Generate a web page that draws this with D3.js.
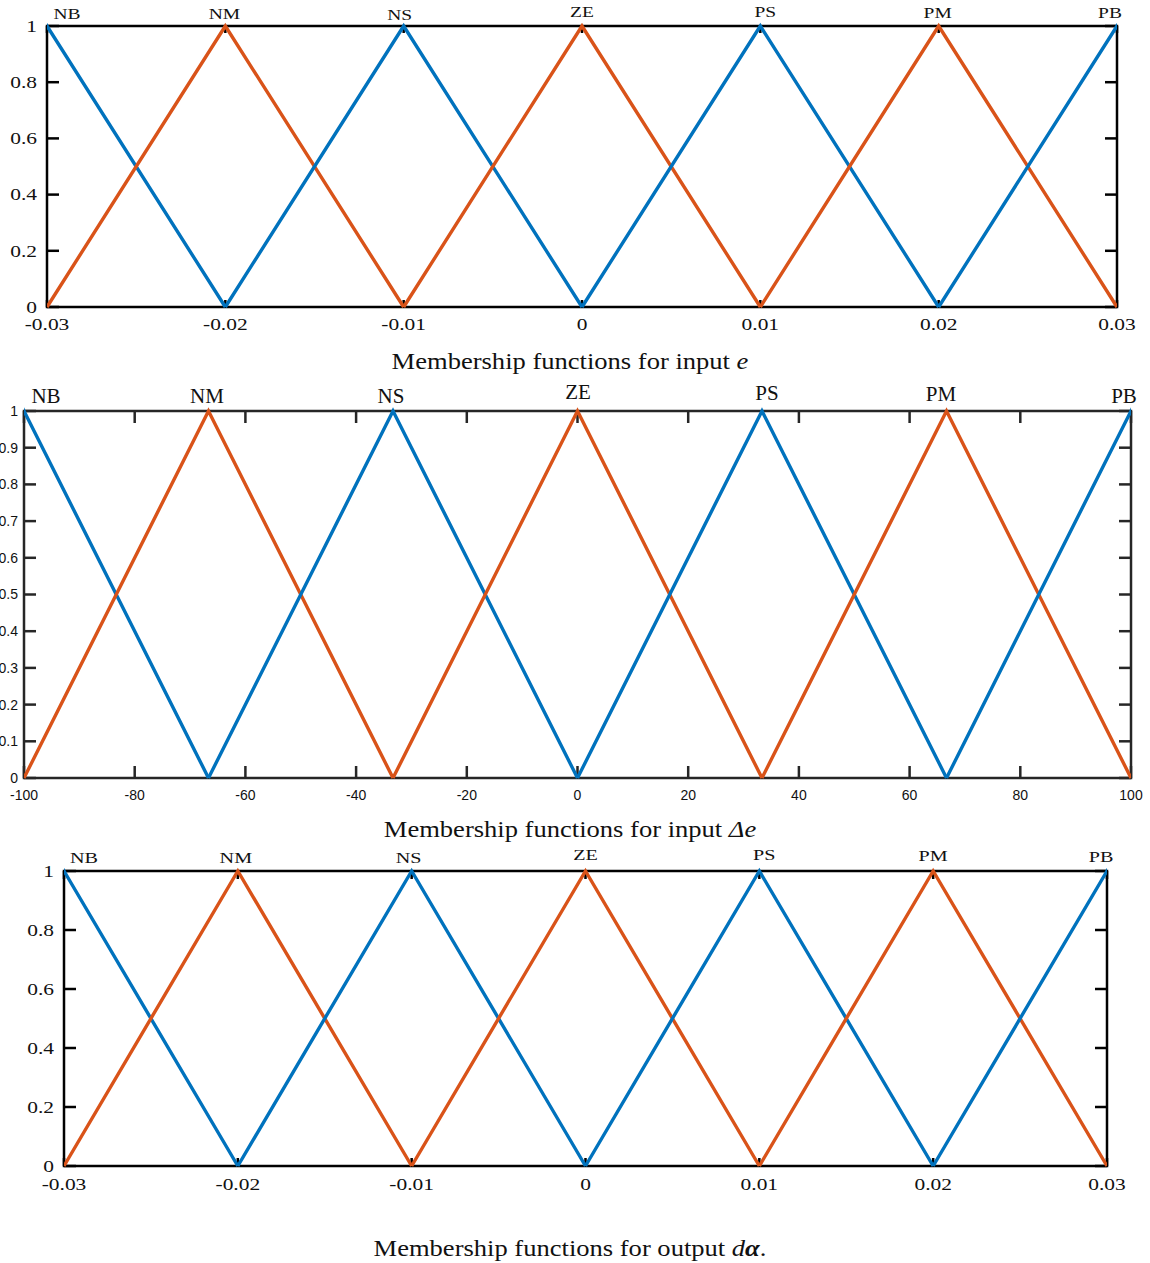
<!DOCTYPE html>
<html lang="en">
<head>
<meta charset="UTF-8">
<title>Membership functions</title>
<script src="https://d3js.org/d3.v7.min.js"></script>
<style>
    body { margin: 0; background: #fff; }
    svg text { font-family: "Liberation Serif", "Times New Roman", serif; fill: #111; }
    .sans text.tick { font-family: "Liberation Sans", Arial, sans-serif; }
</style>
</head>
<body>
<div id="chart"></div>
<script>
// fuzzy set names and triangle parameters [left, peak, right]
var setNames = ["NB", "NM", "NS", "ZE", "PS", "PM", "PB"];
var eSets = [[-0.04, -0.03, -0.02], [-0.03, -0.02, -0.01], [-0.02, -0.01, 0], [-0.01, 0, 0.01],
             [0, 0.01, 0.02], [0.01, 0.02, 0.03], [0.02, 0.03, 0.04]];
var deSets = [[-133.33, -100, -66.67], [-100, -66.67, -33.33], [-66.67, -33.33, 0], [-33.33, 0, 33.33],
              [0, 33.33, 66.67], [33.33, 66.67, 100], [66.67, 100, 133.33]];
var daSets = [[-0.04, -0.03, -0.02], [-0.03, -0.02, -0.01], [-0.02, -0.01, 0], [-0.01, 0, 0.01],
              [0, 0.01, 0.02], [0.01, 0.02, 0.03], [0.02, 0.03, 0.04]];
var eTicks = [-0.03, -0.02, -0.01, 0, 0.01, 0.02, 0.03];
var deTicks = [-100, -80, -60, -40, -20, 0, 20, 40, 60, 80, 100];
var yTicks1 = [0, 0.2, 0.4, 0.6, 0.8, 1];
var yTicks2 = [0, 0.1, 0.2, 0.3, 0.4, 0.5, 0.6, 0.7, 0.8, 0.9, 1];

var blue = "#0072BD", orange = "#D95319";
var W = 1150, H = 1263;

var svg = d3.select("#chart").append("svg").attr("width", W).attr("height", H);

// text that can be stretched sideways (the top and bottom figures are widened)
function label(g, x, y, str, size, anchor, sx, cls) {
    return g.append("text")
        .attr("class", cls || null)
        .attr("transform", "translate(" + x + "," + y + ") scale(" + sx + ",1)")
        .attr("text-anchor", anchor).attr("font-size", size)
        .text(str);
}

function panel(opt) {
    var g = svg.append("g").attr("class", opt.sans ? "sans" : "");
    var x = d3.scaleLinear().domain(opt.domain).range([opt.x0, opt.x1]);
    var y = d3.scaleLinear().domain([0, 1]).range([opt.y1, opt.y0]);
    var line = d3.line().x(function(d) { return x(d[0]); }).y(function(d) { return y(d[1]); });
    var clip = "clip" + opt.id;
    g.append("clipPath").attr("id", clip).append("rect")
        .attr("x", opt.x0).attr("y", opt.y0 - 4).attr("width", opt.x1 - opt.x0).attr("height", opt.y1 - opt.y0 + 8);

    var ax = opt.axisColor;
    // inward ticks on all four sides
    var tk = g.append("g").attr("stroke", ax).attr("stroke-width", 2.5);
    opt.xTicks.forEach(function(t) {
        tk.append("line").attr("x1", x(t)).attr("x2", x(t)).attr("y1", opt.y1).attr("y2", opt.y1 - opt.xTickLen);
        tk.append("line").attr("x1", x(t)).attr("x2", x(t)).attr("y1", opt.y0).attr("y2", opt.y0 + opt.xTickLen);
    });
    opt.yTicks.forEach(function(t) {
        tk.append("line").attr("x1", opt.x0).attr("x2", opt.x0 + opt.yTickLen).attr("y1", y(t)).attr("y2", y(t));
        tk.append("line").attr("x1", opt.x1).attr("x2", opt.x1 - opt.yTickLen).attr("y1", y(t)).attr("y2", y(t));
    });
    g.append("rect").attr("x", opt.x0).attr("y", opt.y0)
        .attr("width", opt.x1 - opt.x0).attr("height", opt.y1 - opt.y0)
        .attr("fill", "none").attr("stroke", ax).attr("stroke-width", 2.5);

    // membership triangles
    g.append("g").attr("clip-path", "url(#" + clip + ")")
        .selectAll("path").data(opt.sets).enter().append("path")
        .attr("d", function(s) { return line([[s[0], 0], [s[1], 1], [s[2], 0]]); })
        .attr("fill", "none")
        .attr("stroke", function(s, i) { return i % 2 ? orange : blue; })
        .attr("stroke-width", 3.4);

    // tick labels (plain hyphen minus like the original)
    opt.xTicks.forEach(function(t) {
        label(g, x(t), opt.y1 + opt.xLabelDy, String(t), opt.tickFont, "middle", opt.sx, "tick");
    });
    opt.yTicks.forEach(function(t) {
        label(g, opt.x0 - opt.yLabelDx, y(t) + opt.tickFont * 0.35, String(t), opt.tickFont, "end", opt.sx, "tick");
    });

    // set names above peaks
    opt.sets.forEach(function(s, i) {
        label(g, x(s[1]) + opt.nameDx[i], opt.y0 - opt.nameDy[i], setNames[i], opt.nameFont, "middle", opt.sx);
    });
}

panel({ id: 1, domain: [-0.03, 0.03], x0: 47, x1: 1117, y0: 26, y1: 307, sets: eSets,
    xTicks: eTicks, yTicks: yTicks1, axisColor: "#000", xTickLen: 7, yTickLen: 12,
    tickFont: 16.5, xLabelDy: 23, yLabelDx: 10, nameFont: 15, sx: 1.3,
    nameDx: [20, -1, -4, 0, 5, -1, -7], nameDy: [7, 7, 6, 9, 9, 8, 8] });

panel({ id: 2, domain: [-100, 100], x0: 24, x1: 1131, y0: 411, y1: 778, sets: deSets, sans: true,
    xTicks: deTicks, yTicks: yTicks2, axisColor: "#262626", xTickLen: 12, yTickLen: 12,
    tickFont: 14, xLabelDy: 22, yLabelDx: 6, nameFont: 21, sx: 1,
    nameDx: [22, -1.5, -2, 0.5, 5, -5.5, -7], nameDy: [8, 8, 8, 12, 11, 10, 8] });

panel({ id: 3, domain: [-0.03, 0.03], x0: 64, x1: 1107, y0: 871, y1: 1166, sets: daSets,
    xTicks: eTicks, yTicks: yTicks1, axisColor: "#000", xTickLen: 8, yTickLen: 12,
    tickFont: 16.5, xLabelDy: 24, yLabelDx: 10, nameFont: 15.5, sx: 1.3,
    nameDx: [20, -2, -3, 0, 5, 0, -6], nameDy: [8, 8, 8, 11, 11, 10, 9] });

// captions
function caption(yPos, parts) {
    var t = svg.append("text")
        .attr("transform", "translate(570," + yPos + ") scale(1.13,1)")
        .attr("text-anchor", "middle").attr("font-size", 23.5);
    parts.forEach(function(p) {
        var s = t.append("tspan").text(p.text);
        if (p.italic) s.attr("font-style", "italic");
        if (p.bold) s.attr("font-weight", "bold");
    });
}
caption(369, [{ text: "Membership functions for input " }, { text: "e", italic: true }]);
caption(837, [{ text: "Membership functions for input " }, { text: "\u0394e", italic: true }]);
caption(1256, [{ text: "Membership functions for output " }, { text: "d", italic: true },
    { text: "\u03b1", italic: true, bold: true }, { text: "." }]);
</script>
</body>
</html>
